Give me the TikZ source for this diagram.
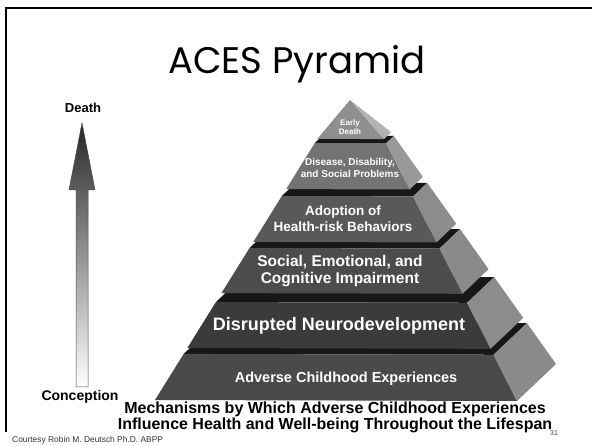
\documentclass[tikz,border=0pt]{standalone}
\usepackage{fontspec}
\setmainfont{Liberation Sans}
\newfontfamily\titlefont{Poppins}
\usetikzlibrary{calc}
\tikzset{
  layertext/.style={text=white, align=center, inner sep=0pt},
  sidetext/.style={inner sep=0pt, align=center},
}
\begin{document}
\begin{tikzpicture}[x=1pt,y=-1pt]
\useasboundingbox (0,0) rectangle (592,446);
\draw[line width=1.6pt] (592,8) -- (6,8) -- (6,432);
\node[font=\titlefont\fontsize{37}{40}\selectfont] (title) at (297,64) {ACES Pyramid};
% pyramid corners, layers are slices between two heights
\coordinate (apex) at (354,80);
\coordinate (tip) at (350,100);
\coordinate (fl) at (155,400);
\coordinate (fr) at (517,401);
\coordinate (br) at (556,364);
\coordinate (bl) at ($(fl)+(br)-(fr)$);
\definecolor{topgray}{gray}{0.09}
\definecolor{capfront}{gray}{0.56}
\definecolor{capside}{gray}{0.70}
\foreach \a/\b/\fc/\sc in {0/0.144/0.29/0.54, 0.1625/0.306/0.23/0.55, 0.334/0.475/0.30/0.54, 0.494/0.6375/0.35/0.55, 0.659/0.803/0.45/0.60}{
  \definecolor{frontgray}{gray}{\fc}
  \definecolor{sidegray}{gray}{\sc}
  \fill[topgray] ($(fl)!\b!(apex)$) -- ($(fr)!\b!(apex)$) -- ($(br)!\b!(apex)$) -- ($(bl)!\b!(apex)$) -- cycle;
  \fill[frontgray] ($(fl)!\a!(apex)$) -- ($(fr)!\a!(apex)$) -- ($(fr)!\b!(apex)$) -- ($(fl)!\b!(apex)$) -- cycle;
  \fill[sidegray] ($(fr)!\a!(apex)$) -- ($(br)!\a!(apex)$) -- ($(br)!\b!(apex)$) -- ($(fr)!\b!(apex)$) -- cycle;
}
% top cap
\fill[capfront] ($(fl)!0.816!(apex)$) -- ($(fr)!0.816!(apex)$) -- (tip) -- cycle;
\fill[capside] ($(fr)!0.816!(apex)$) -- ($(br)!0.816!(apex)$) -- (tip) -- cycle;
\node[layertext, font=\bfseries\fontsize{8}{9.5}\selectfont] (early) at (350,127) {Early\\Death};
\node[layertext, font=\bfseries\fontsize{10}{11.5}\selectfont] (disease) at (350,168) {Disease, Disability,\\and Social Problems};
\node[layertext, font=\bfseries\fontsize{13.5}{16}\selectfont] (adoption) at (343,219) {Adoption of\\Health-risk Behaviors};
\node[layertext, font=\bfseries\fontsize{15.5}{16.5}\selectfont] (social) at (340,271) {Social, Emotional, and\\Cognitive Impairment};
\node[layertext, font=\bfseries\fontsize{18}{18}\selectfont] (disrupted) at (339,326) {Disrupted Neurodevelopment};
\node[layertext, font=\bfseries\fontsize{14.5}{16}\selectfont] (adverse) at (346,379) {Adverse Childhood Experiences};
% age arrow
\node[sidetext, font=\bfseries\fontsize{13}{14}\selectfont] (death) at (83,108) {Death};
\node[sidetext, font=\bfseries\fontsize{14}{15}\selectfont] (conception) at (80,397) {Conception};
\shadedraw[top color=black!85, bottom color=white, draw=black!70, line width=0.5pt] (76,387) -- (76,190) -- (69,190) -- (82,123) -- (95,190) -- (88,190) -- (88,387) -- cycle;
\node[text=black!75, font=\fontsize{7}{8}\selectfont] (page) at (554,433) {31};
\node[sidetext, font=\bfseries\fontsize{16}{13.5}\selectfont] (caption) at (335,417) {Mechanisms by Which Adverse Childhood Experiences\\Influence Health and Well-being Throughout the Lifespan};
\node[anchor=west, inner sep=0pt, text=black!80, font=\fontsize{8.4}{9}\selectfont] (credit) at (12,440) {Courtesy Robin M. Deutsch Ph.D. ABPP};
\end{tikzpicture}
\end{document}
